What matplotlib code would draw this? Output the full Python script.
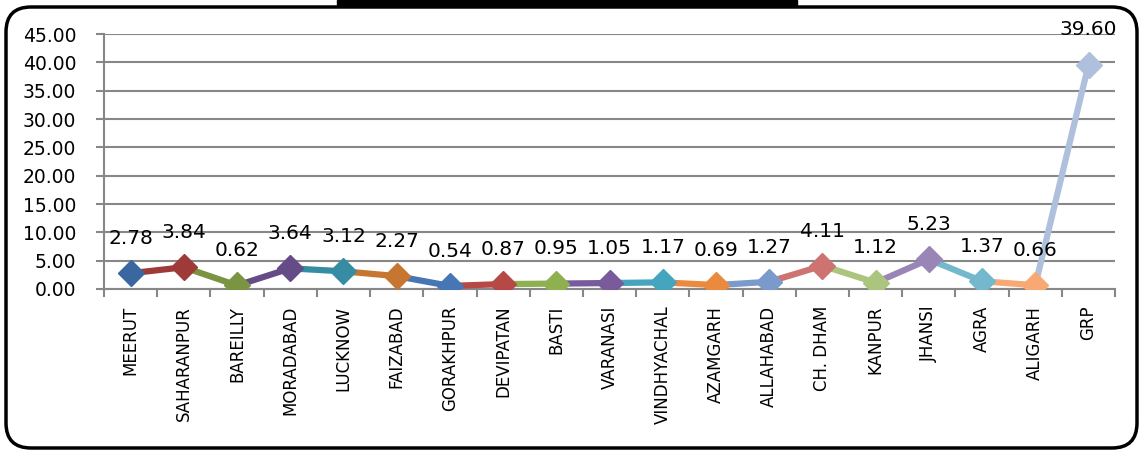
import matplotlib.pyplot as plt
from matplotlib.patches import FancyBboxPatch, Rectangle

# 数据
districts = ["MEERUT", "SAHARANPUR", "BAREILLY", "MORADABAD", "LUCKNOW", "FAIZABAD",
             "GORAKHPUR", "DEVIPATAN", "BASTI", "VARANASI", "VINDHYACHAL", "AZAMGARH",
             "ALLAHABAD", "CH. DHAM", "KANPUR", "JHANSI", "AGRA", "ALIGARH", "GRP"]
values = [2.78, 3.84, 0.62, 3.64, 3.12, 2.27, 0.54, 0.87, 0.95, 1.05,
          1.17, 0.69, 1.27, 4.11, 1.12, 5.23, 1.37, 0.66, 39.60]
colors = ["#3A67A0", "#9E3B38", "#7A9442", "#654C86", "#358CA3", "#C77632",
          "#4676B4", "#B64845", "#8FB050", "#795B9D", "#45A5BF", "#EA8A3F",
          "#7A9ACB", "#CD7473", "#ABC57E", "#9A86B6", "#73B8CC", "#F8A872", "#AFC0DD"]

plt.rcParams['font.family'] = ['DejaVu Sans']

fig = plt.figure(figsize=(11.4, 4.5), dpi=100)
ax = fig.add_axes([0.0912, 0.3578, 0.887, 0.5666])

x = list(range(len(values)))
# 每段线用终点的颜色
for i in range(1, len(values)):
    ax.plot([x[i-1], x[i]], [values[i-1], values[i]], color=colors[i], lw=4.5,
            solid_capstyle="butt", zorder=3)
for i in x:
    ax.plot(x[i], values[i], marker="D", ms=13.5, color=colors[i], mec=colors[i], zorder=4)
    ax.annotate("%.2f" % values[i], (x[i], values[i]), xytext=(0, 21),
                textcoords="offset points", ha="center", va="baseline",
                fontsize=14.5, zorder=5)

ax.set_xlim(-0.5, len(values) - 0.5)
ax.set_ylim(0, 45)
ax.set_yticks(range(0, 46, 5))
ax.set_yticklabels(["%.2f" % v for v in range(0, 46, 5)], fontsize=13.5)
ax.set_xticks(x)
ax.set_xticklabels(districts, rotation=90, fontsize=12)
ax.set_xticks([i - 0.5 for i in range(len(values) + 1)], minor=True)
ax.tick_params(axis="x", which="major", length=0, pad=12)
ax.tick_params(axis="x", which="minor", length=6, width=1.5, color="#878787")
ax.tick_params(axis="y", length=6, width=1.5, color="#878787", pad=14)
ax.grid(axis="y", color="#878787", lw=1.5, zorder=0)
for s in ["top", "right"]:
    ax.spines[s].set_visible(False)
for s in ["left", "bottom"]:
    ax.spines[s].set_color("#878787")
    ax.spines[s].set_linewidth(1.5)

# 圆角外框和顶部黑线（英寸坐标）
box = FancyBboxPatch((0.06, 0.02), 11.31, 4.41,
                     boxstyle="round,pad=0,rounding_size=0.25",
                     transform=fig.dpi_scale_trans, fill=False, ec="black", lw=2.5)
fig.patches.append(box)
fig.patches.append(Rectangle((3.37, 4.455), 4.6, 0.045,
                             transform=fig.dpi_scale_trans, color="black"))

fig.savefig("out.png", dpi=100)
